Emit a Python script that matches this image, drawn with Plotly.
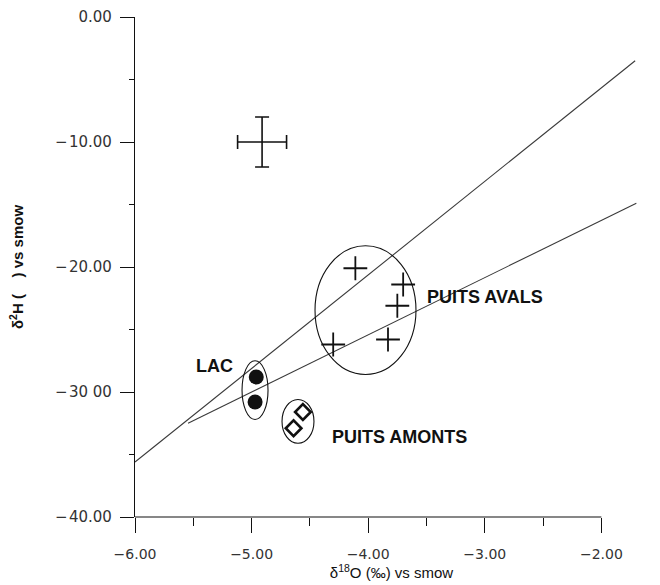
import plotly.graph_objects as go

# ---- data ----
x_ticks = [-6.0, -5.0, -4.0, -3.0, -2.0]
y_ticks = [-40.0, -30.0, -20.0, -10.0, 0.0]
y_tick_text = ["\u2212\u200a40.00", "\u2212\u200a30 00", "\u2212\u200a20.00", "\u2212\u200a10.00", "0.00"]
x_tick_text = ["\u22126.00", "\u22125.00", "\u22124.00", "\u22123.00", "\u22122.00"]

# analytical uncertainty cross
err_x = [-4.91]
err_y = [-10.0]
err_dx = 0.21
err_dy = 2.0

# PUITS AVALS (crosses)
avals_x = [-4.11, -3.70, -3.75, -4.30, -3.83]
avals_y = [-20.1, -21.4, -23.1, -26.2, -25.8]

# LAC (filled circles)
lac_x = [-4.96, -4.97]
lac_y = [-28.8, -30.8]

# PUITS AMONTS (open diamonds)
amonts_x = [-4.56, -4.64]
amonts_y = [-31.6, -32.9]

# lines
line1_x = [-6.0, -1.71]
line1_y = [-35.6, -3.5]
line2_x = [-5.545, -1.70]
line2_y = [-32.5, -14.9]

# group ellipses: (x0, x1, y0, y1)
ellipse_lac = (-5.082, -4.859, -32.2, -27.5)
ellipse_amonts = (-4.739, -4.465, -34.1, -30.6)
ellipse_avals = (-4.456, -3.590, -28.6, -18.3)

# labels
labels = [
    ("LAC", -5.314, -27.9, "center"),
    ("PUITS AVALS", -3.513, -22.4, "left"),
    ("PUITS AMONTS", -4.328, -33.6, "left"),
]

LINE_COL = "#3a3a3a"
INK = "#111111"

fig = go.Figure()

fig.add_trace(go.Scatter(x=line1_x, y=line1_y, mode="lines",
                         line=dict(color=LINE_COL, width=1.1), showlegend=False))
fig.add_trace(go.Scatter(x=line2_x, y=line2_y, mode="lines",
                         line=dict(color=LINE_COL, width=1.1), showlegend=False))

fig.add_trace(go.Scatter(
    x=err_x, y=err_y, mode="markers",
    marker=dict(size=1, color=INK),
    error_x=dict(type="constant", value=err_dx, color=INK, thickness=1.6, width=7),
    error_y=dict(type="constant", value=err_dy, color=INK, thickness=1.6, width=7),
    showlegend=False))

fig.add_trace(go.Scatter(x=avals_x, y=avals_y, mode="markers",
                         marker=dict(symbol="cross-thin", size=17, color=INK,
                                     line=dict(color=INK, width=1.8)),
                         showlegend=False))
fig.add_trace(go.Scatter(x=lac_x, y=lac_y, mode="markers",
                         marker=dict(symbol="circle", size=15, color=INK),
                         showlegend=False))
fig.add_trace(go.Scatter(x=amonts_x, y=amonts_y, mode="markers",
                         marker=dict(symbol="diamond-open", size=12, color=INK,
                                     line=dict(color=INK, width=2.6)),
                         showlegend=False))

for (x0, x1, y0, y1) in (ellipse_lac, ellipse_amonts, ellipse_avals):
    fig.add_shape(type="circle", xref="x", yref="y", x0=x0, x1=x1, y0=y0, y1=y1,
                  line=dict(color=INK, width=1.1))

# x axis line spanning only the tick range
fig.add_shape(type="line", xref="x", yref="paper", x0=min(x_ticks), x1=max(x_ticks),
              y0=0, y1=0, line=dict(color=INK, width=1.2))

for text, lx, ly, anchor in labels:
    fig.add_annotation(x=lx, y=ly, text=f"<b>{text}</b>", showarrow=False,
                       xanchor=anchor, yanchor="middle",
                       font=dict(family="Liberation Sans, Arial", size=18, color=INK))

x_tick_font = dict(family="DejaVu Sans", size=14, color="#333333")
y_tick_font = dict(family="DejaVu Sans", size=15, color="#333333")

fig.update_layout(
    width=660, height=585,
    margin=dict(l=135, r=12, t=17, b=68),
    paper_bgcolor="white", plot_bgcolor="white",
    showlegend=False,
    xaxis=dict(
        range=[-6.0, -1.6], showgrid=False, zeroline=False, showline=False,
        automargin=False,
        tickmode="array", tickvals=x_ticks, ticktext=x_tick_text,
        ticks="outside", ticklen=15, tickwidth=1.2, tickcolor=INK,
        minor=dict(ticks="outside", ticklen=8, tickwidth=1, tickcolor=INK,
                   tickmode="linear", tick0=-6.0, dtick=0.5, showgrid=False),
        tickfont=x_tick_font, ticklabelstandoff=9,
        title=dict(text="\u03b4<sup>18</sup>O (\u2030) vs smow",
                   font=dict(family="Liberation Sans, Arial", size=15, color=INK),
                   standoff=6),
    ),
    yaxis=dict(
        range=[-40.0, 0.0], showgrid=False, zeroline=False,
        showline=True, linecolor=INK, linewidth=1.2, automargin=False,
        tickmode="array", tickvals=y_ticks, ticktext=y_tick_text,
        ticks="outside", ticklen=14, tickwidth=1.2, tickcolor=INK,
        minor=dict(ticks="outside", ticklen=5, tickwidth=1, tickcolor=INK,
                   tickmode="linear", tick0=-40.0, dtick=5.0, showgrid=False),
        tickfont=y_tick_font, ticklabelstandoff=5,
        title=dict(text="<b>\u03b4<sup>2</sup>H (    ) vs smow</b>",
                   font=dict(family="Liberation Sans, Arial", size=15, color=INK),
                   standoff=27),
    ),
)

fig.write_html("out.html")
